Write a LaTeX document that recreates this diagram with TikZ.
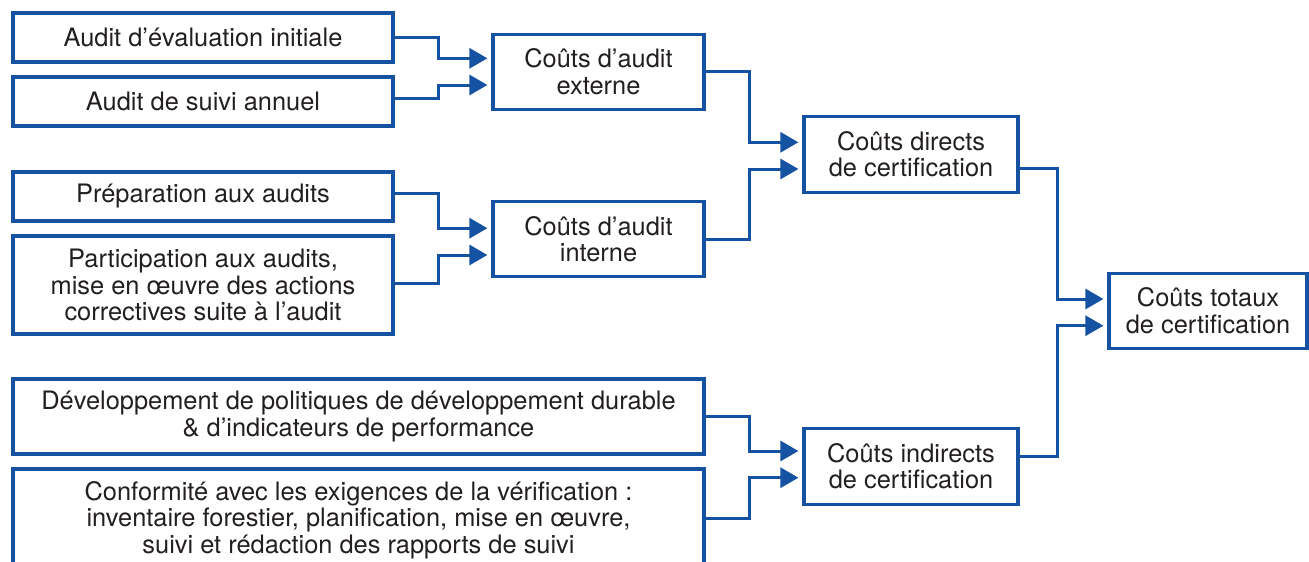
\documentclass[tikz,border=0pt]{standalone}
\usepackage{fontspec}
\setmainfont{TeX Gyre Heros}
\usetikzlibrary{arrows.meta}
\definecolor{frameblue}{RGB}{22,82,162}
\definecolor{inktext}{RGB}{35,31,32}
\begin{document}
\begin{tikzpicture}[x=1pt,y=-1pt,
  box/.style={draw=frameblue, line width=3.2pt, align=center, inner sep=0pt,
    font=\fontsize{25.4}{26.6}\selectfont, text=inktext},
  conn/.style={draw=frameblue, line width=3pt,
    -{Triangle[length=18pt,width=20pt]}, shorten >=4pt}]
\clip (0,0) rectangle (1309,562);

% input boxes
\node[box, minimum width=380pt, minimum height=49pt] (a1) at (203,37.5) {Audit d’évaluation initiale};
\node[box, minimum width=380pt, minimum height=49pt] (a2) at (203,101.5) {Audit de suivi annuel};
\node[box, minimum width=380pt, minimum height=49pt] (b1) at (203,196.5) {Préparation aux audits};
\node[box, minimum width=380pt, minimum height=98pt] (b2) at (203,285) {Participation aux audits,\\mise en œuvre des actions\\correctives suite à l’audit};
\node[box, minimum width=691pt, minimum height=75pt] (c1) at (358.5,416.5) {Développement de politiques de développement durable\\\& d’indicateurs de performance};
\node[box, minimum width=691pt, minimum height=102pt] (c2) at (358.5,520) {Conformité avec les exigences de la vérification :\\inventaire forestier, planification, mise en œuvre,\\suivi et rédaction des rapports de suivi};

% intermediate and total cost boxes
\node[box, minimum width=211pt, minimum height=75pt] (ext) at (598.5,71.7) {Coûts d’audit\\externe};
\node[box, minimum width=211pt, minimum height=75pt] (int) at (598.5,239.2) {Coûts d’audit\\interne};
\node[box, minimum width=214pt, minimum height=76pt] (dir) at (911,154.2) {Coûts directs\\de certification};
\node[box, minimum width=214pt, minimum height=76pt] (ind) at (911,466.2) {Coûts indirects\\de certification};
\node[box, minimum width=198pt, minimum height=75pt] (tot) at (1208,310.8) {Coûts totaux\\de certification};

% vertical runs of the elbow connectors
\coordinate (v1) at (438,0);
\coordinate (v2) at (749,0);
\coordinate (v3) at (1057,0);

\draw[conn] (a1.east) -- (a1.east -| v1) |- ([yshift=13.4pt]ext.west);
\draw[conn] ([yshift=3.5pt]a2.east) -- ([yshift=3.5pt]a2.east -| v1) |- ([yshift=-13.3pt]ext.west);
\draw[conn] ([yshift=3.5pt]b1.east) -- ([yshift=3.5pt]b1.east -| v1) |- ([yshift=11pt]int.west);
\draw[conn] ([yshift=2pt]b2.east) -- ([yshift=2pt]b2.east -| v1) |- ([yshift=-15.8pt]int.west);

\draw[conn] (ext.east) -- (ext.east -| v2) |- ([yshift=11.9pt]dir.west);
\draw[conn] (int.east) -- (int.east -| v2) |- ([yshift=-14.8pt]dir.west);
\draw[conn] (c1.east) -- (c1.east -| v2) |- ([yshift=15.2pt]ind.west);
\draw[conn] ([yshift=2pt]c2.east) -- ([yshift=2pt]c2.east -| v2) |- ([yshift=-11.5pt]ind.west);

\draw[conn] ([yshift=-14pt]dir.east) -- ([yshift=-14pt]dir.east -| v3) |- ([yshift=11.8pt]tot.west);
\draw[conn] ([yshift=9.5pt]ind.east) -- ([yshift=9.5pt]ind.east -| v3) |- ([yshift=-14.9pt]tot.west);
\end{tikzpicture}
\end{document}
